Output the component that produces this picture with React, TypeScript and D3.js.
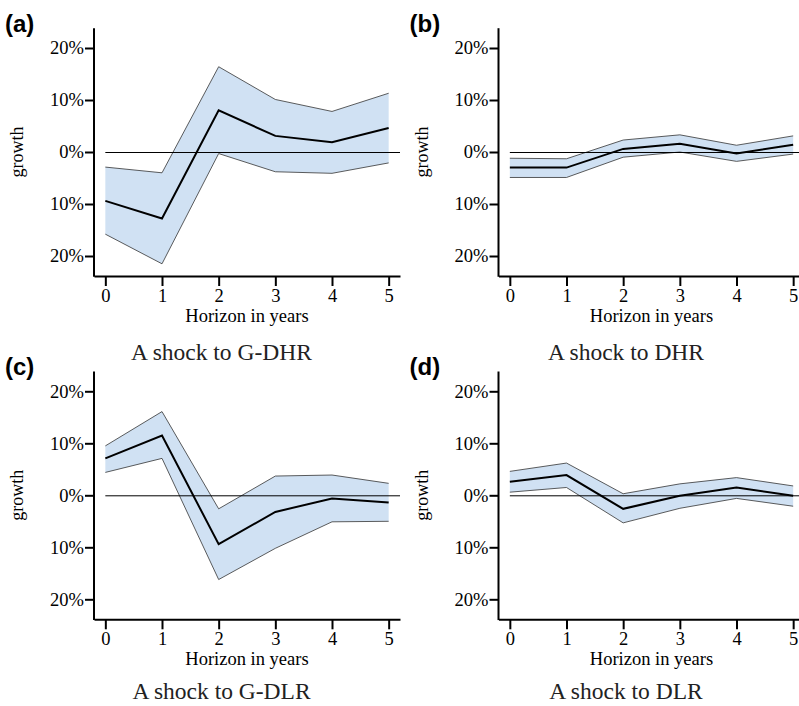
import React, { useEffect, useRef } from "react";
import * as d3 from "d3";

// data (percent)
const horizons = [0, 1, 2, 3, 4, 5];
const yTickValues = [20, 10, 0, -10, -20];
const yTickLabels = ["20%", "10%", "0%", "10%", "20%"];
const panelLetters = ["(a)", "(b)", "(c)", "(d)"];
const panelTitles = ["A shock to G-DHR", "A shock to DHR", "A shock to G-DLR", "A shock to DLR"];

const meanA = [-9.4, -12.8, 8.0, 3.1, 1.9, 4.6];
const upperA = [-2.9, -4.0, 16.4, 10.1, 7.8, 11.3];
const lowerA = [-15.8, -21.5, -0.3, -3.8, -4.1, -2.1];

const meanB = [-3.0, -3.0, 0.6, 1.6, -0.3, 1.4];
const upperB = [-1.2, -1.3, 2.3, 3.3, 1.3, 3.1];
const lowerB = [-4.9, -4.9, -1.0, 0.0, -1.8, -0.4];

const meanC = [7.1, 11.5, -9.4, -3.2, -0.6, -1.4];
const upperC = [9.5, 16.1, -2.6, 3.7, 3.9, 2.3];
const lowerC = [4.4, 7.1, -16.2, -10.2, -5.1, -5.0];

const meanD = [2.6, 3.9, -2.6, -0.1, 1.5, -0.1];
const upperD = [4.6, 6.2, 0.3, 2.2, 3.4, 1.8];
const lowerD = [0.6, 1.5, -5.3, -2.5, -0.6, -2.1];

const panels = [
  { mean: meanA, upper: upperA, lower: lowerA },
  { mean: meanB, upper: upperB, lower: lowerB },
  { mean: meanC, upper: upperC, lower: lowerC },
  { mean: meanD, upper: upperD, lower: lowerD },
];

const App = () => {
  const ref = useRef<SVGSVGElement>(null);

  useEffect(() => {
    makeGraph();
  }, []);

  const makeGraph = () => {
    const width = 799;
    const height = 706;
    const serif = "'Liberation Serif', 'Times New Roman', serif";

    const svg = d3.select(ref.current).attr("width", width).attr("height", height);
    svg.selectAll("*").remove();

    // each panel uses the same scales, shifted by an offset
    const x = d3.scaleLinear().domain([-0.2, 5.2]).range([94, 400]);
    const y = d3.scaleLinear().domain([-24, 24]).range([276.8, 27.2]);

    panels.forEach((p, i) => {
      const row = Math.floor(i / 2);
      const dx = (i % 2) * 404.5;
      const dy = row * 343.3;
      const g = svg.append("g").attr("transform", `translate(${dx}, ${dy})`);

      // band
      const area = d3
        .area<number>()
        .x((d, j) => x(horizons[j]))
        .y0((d, j) => y(p.lower[j]))
        .y1((d) => y(d));
      g.append("path").datum(p.upper).attr("fill", "#d0e1f3").attr("d", area);

      const line = d3
        .line<number>()
        .x((d, j) => x(horizons[j]))
        .y((d) => y(d));

      [p.upper, p.lower].forEach((s) => {
        g.append("path")
          .datum(s)
          .attr("fill", "none")
          .attr("stroke", "#333")
          .attr("stroke-width", 0.8)
          .attr("d", line);
      });

      // zero line
      g.append("line")
        .attr("x1", x(0))
        .attr("x2", x(5.2))
        .attr("y1", Math.round(y(0)) + 0.5)
        .attr("y2", Math.round(y(0)) + 0.5)
        .attr("stroke", "#000")
        .attr("stroke-width", 1);

      g.append("path")
        .datum(p.mean)
        .attr("fill", "none")
        .attr("stroke", "#000")
        .attr("stroke-width", 2)
        .attr("stroke-linejoin", "miter")
        .attr("d", line);

      // axes
      const xAxis = g
        .append("g")
        .attr("transform", `translate(0, ${y.range()[0] - 0.8})`)
        .call(d3.axisBottom(x).tickValues(horizons).tickFormat(d3.format("d")).tickSize(10).tickSizeOuter(0).tickPadding(3));
      const yAxis = g
        .append("g")
        .attr("transform", `translate(${x(-0.2)}, 0)`)
        .call(
          d3
            .axisLeft(y)
            .tickValues(yTickValues)
            .tickFormat((d, k) => yTickLabels[k])
            .tickSize(9)
            .tickSizeOuter(0)
            .tickPadding(1)
        );
      [xAxis, yAxis].forEach((a) => {
        a.attr("font-family", serif).attr("font-size", 18.5);
        a.select(".domain").attr("stroke-width", 2);
        a.selectAll(".tick line").attr("stroke-width", 2);
        a.selectAll("text").attr("fill", "#000");
      });
      yAxis.select(".domain").attr("d", `M0,${y(24) + 1}V${y.range()[0]}`);

      g.append("text")
        .attr("x", x(2.5))
        .attr("y", 322)
        .attr("text-anchor", "middle")
        .attr("font-family", serif)
        .attr("font-size", 18.5)
        .text("Horizon in years");

      g.append("text")
        .attr("transform", `translate(23, ${y(0)}) rotate(-90)`)
        .attr("text-anchor", "middle")
        .attr("font-family", serif)
        .attr("font-size", 18)
        .text("growth");

      g.append("text")
        .attr("x", 5)
        .attr("y", 32)
        .attr("font-family", "'Liberation Sans', Arial, sans-serif")
        .attr("font-weight", "bold")
        .attr("font-size", 24)
        .text(panelLetters[i]);

      g.append("text")
        .attr("x", x(2.05))
        .attr("y", row === 0 ? 359.5 : 356)
        .attr("text-anchor", "middle")
        .attr("font-family", serif)
        .attr("font-size", 23.5)
        .attr("fill", "#222")
        .text(panelTitles[i]);
    });
  };

  return (
    <svg ref={ref} style={{ position: "absolute", left: 0, top: 0, background: "#fff" }}></svg>
  );
};

export default App;
